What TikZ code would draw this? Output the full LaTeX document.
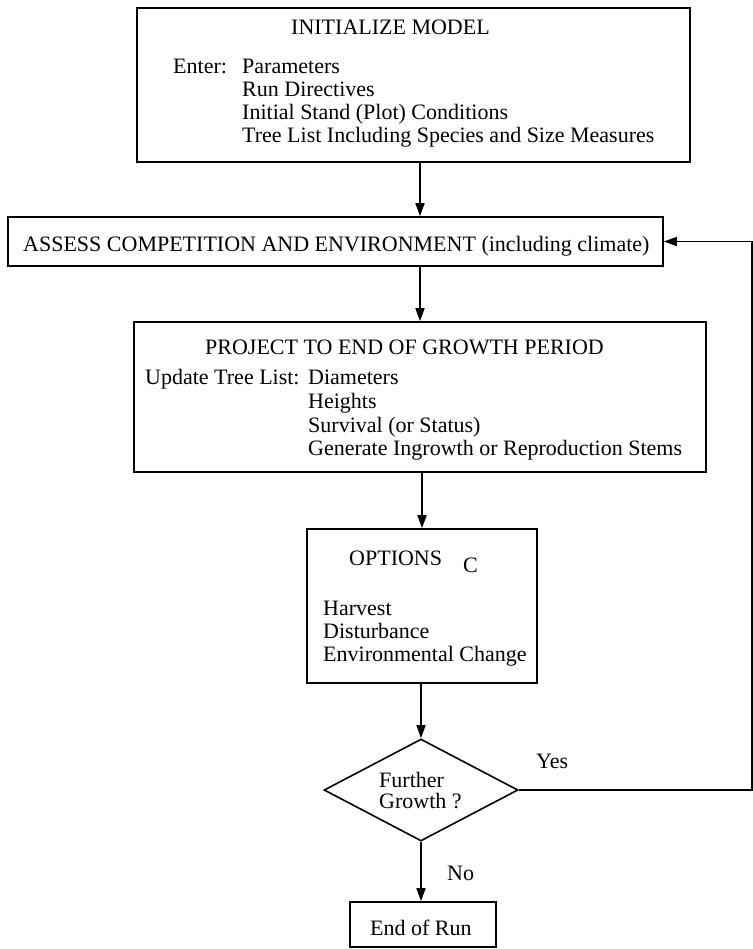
\documentclass[tikz,border=0pt]{standalone}
\usepackage{fontspec}
\setmainfont{Liberation Serif}
\usetikzlibrary{arrows.meta,shapes.geometric}
\begin{document}
\begin{tikzpicture}[x=1pt,y=-1pt,
  box/.style={draw,line width=1.6pt,rectangle,inner sep=0pt},
  txt/.style={inner sep=0pt,anchor=base west,font=\fontsize{22}{23}\selectfont},
  conn/.style={line width=1.6pt,line join=miter,-{Triangle[length=13pt,width=9pt]}}]

\useasboundingbox (0,0) rectangle (752,949);

% boxes
\node[box,minimum width=553pt,minimum height=154pt] (b1) at (413.5,85) {};
\node[box,minimum width=655pt,minimum height=49pt] (b2) at (335.5,241.5) {};
\node[box,minimum width=572pt,minimum height=150pt] (b3) at (420,397) {};
\node[box,minimum width=230pt,minimum height=154pt] (b4) at (422,606) {};
\node[draw,line width=1.6pt,diamond,inner sep=0pt,minimum width=194pt,minimum height=102pt] (dia) at (421,790) {};
\node[box,minimum width=146pt,minimum height=45pt] (end) at (423,924.5) {};

% texts box 1
\node[txt] (t1) at (291,35) {INITIALIZE MODEL};
\node[txt] (t1e) at (173,74) {Enter:};
\node[txt] (t1a) at (242,74) {Parameters};
\node[txt] (t1b) at (242,97) {Run Directives};
\node[txt] (t1c) at (242,120) {Initial Stand (Plot) Conditions};
\node[txt] (t1d) at (242,143) {Tree List Including Species and Size Measures};

% box 2
\node[txt] (t2) at (23,252) {ASSESS COMPETITION AND ENVIRONMENT (including climate)};

% box 3
\node[txt] (t3) at (205,354) {PROJECT TO END OF GROWTH PERIOD};
\node[txt] (t3u) at (145,384) {Update Tree List:};
\node[txt] (t3a) at (308,384) {Diameters};
\node[txt] (t3b) at (308,408) {Heights};
\node[txt] (t3c) at (308,432) {Survival (or Status)};
\node[txt] (t3d) at (308,455) {Generate Ingrowth or Reproduction Stems};

% box 4
\node[txt] (t4) at (349,565) {OPTIONS};
\node[txt] (t4c) at (463,572) {C};
\node[txt] (t4a) at (323,615) {Harvest};
\node[txt] (t4b) at (323,638) {Disturbance};
\node[txt] (t4d) at (323,661) {Environmental Change};

% diamond
\node[txt] (t5a) at (379,787) {Further};
\node[txt] (t5b) at (379,808) {Growth ?};

% end
\node[txt] (t6) at (370,935) {End of Run};

% labels
\node[txt] (yes) at (536,768) {Yes};
\node[txt] (no) at (447,880) {No};

% connectors
\draw[conn] (b1.south -| b3.north) -- (b2.north -| b3.north);
\draw[conn] (b2.south -| b3.north) -- (b3.north);
\draw[conn] (b4.north |- b3.south) -- (b4.north);
\draw[conn] (dia.north |- b4.south) -- (dia.north);
\draw[conn] (dia.south) -- (dia.south |- end.north);

\coordinate (c1) at (752,790);
\coordinate (c2) at (752,241.5);
\draw[conn] (dia.east) -- (c1) -- (c2) -- (b2.east);
\end{tikzpicture}
\end{document}
